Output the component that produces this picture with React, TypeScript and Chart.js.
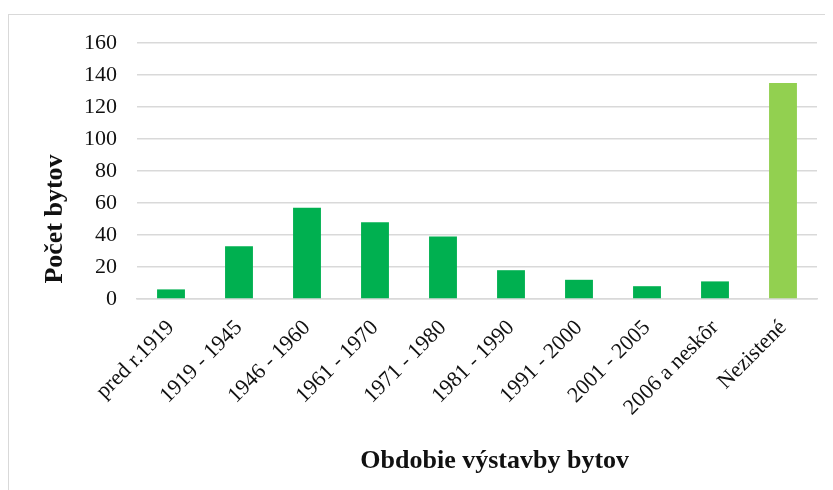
import React, { useEffect, useRef } from "react";
import { Chart, registerables } from "chart.js";

Chart.register(...registerables);

const categories = [
  "pred r.1919",
  "1919 - 1945",
  "1946 - 1960",
  "1961 - 1970",
  "1971 - 1980",
  "1981 - 1990",
  "1991 - 2000",
  "2001 - 2005",
  "2006 a neskôr",
  "Nezistené",
];
const counts = [6, 33, 57, 48, 39, 18, 12, 8, 11, 135];
const barColors = [
  "#00B050", "#00B050", "#00B050", "#00B050", "#00B050",
  "#00B050", "#00B050", "#00B050", "#00B050", "#92D050",
];
const xTitle = "Obdobie výstavby bytov";
const yTitle = "Počet bytov";
const yMin = 0;
const yMax = 160;
const yStep = 20;

const FONT = "'Liberation Serif', 'Times New Roman', serif";
const TEXT = "#111111";

const titlesPlugin = {
  id: "axisTitles",
  afterDraw(chart: any) {
    const ctx = chart.ctx;
    const w = chart.width;
    const h = chart.height;
    ctx.save();
    ctx.fillStyle = TEXT;
    ctx.font = `bold 26px ${FONT}`;
    ctx.textAlign = "center";
    ctx.textBaseline = "middle";
    ctx.fillText(xTitle, w * 0.588, h * 0.93);
    ctx.translate(w * 0.056, h * 0.425);
    ctx.rotate(-Math.PI / 2);
    ctx.fillText(yTitle, 0, 0);
    ctx.restore();
  },
};

export default function App() {
  const ref = useRef<HTMLCanvasElement | null>(null);
  useEffect(() => {
    document.body.style.overflow = "hidden";
    const canvas = ref.current!;
    const chart = new Chart(canvas, {
      type: "bar",
      data: {
        labels: categories,
        datasets: [
          {
            data: counts,
            backgroundColor: barColors,
            borderWidth: 0,
            barPercentage: 0.41,
            categoryPercentage: 1,
          },
        ],
      },
      options: {
        animation: false,
        responsive: false,
        maintainAspectRatio: false,
        layout: { padding: { top: 28, right: 18, left: 0, bottom: 0 } },
        plugins: {
          legend: { display: false },
          tooltip: { enabled: false },
          title: { display: false },
        },
        scales: {
          x: {
            grid: { display: false, drawTicks: false },
            border: { display: true, color: "#d9d9d9", width: 1.5 },
            ticks: {
              color: TEXT,
              font: { family: FONT, size: 22 },
              maxRotation: 45,
              minRotation: 45,
              padding: 16,
              autoSkip: false,
            },
            afterFit(scale: any) {
              scale.height = 196;
            },
          },
          y: {
            min: yMin,
            max: yMax,
            grid: {
              color: "#d9d9d9",
              lineWidth: 1.5,
              drawTicks: true,
              tickLength: 20,
              tickColor: "rgba(0,0,0,0)",
            },
            border: { display: false },
            ticks: {
              stepSize: yStep,
              color: TEXT,
              font: { family: FONT, size: 22 },
              padding: 0,
            },
            afterFit(scale: any) {
              scale.width = 128;
            },
          },
        },
      },
      plugins: [titlesPlugin],
    });
    return () => chart.destroy();
  }, []);
  return (
    <div
      style={{
        marginTop: 6,
        width: 826,
        height: 480,
        border: "1px solid #d9d9d9",
        background: "#fff",
      }}
    >
      <canvas ref={ref} width={826} height={480} style={{ display: "block" }} />
    </div>
  );
}
